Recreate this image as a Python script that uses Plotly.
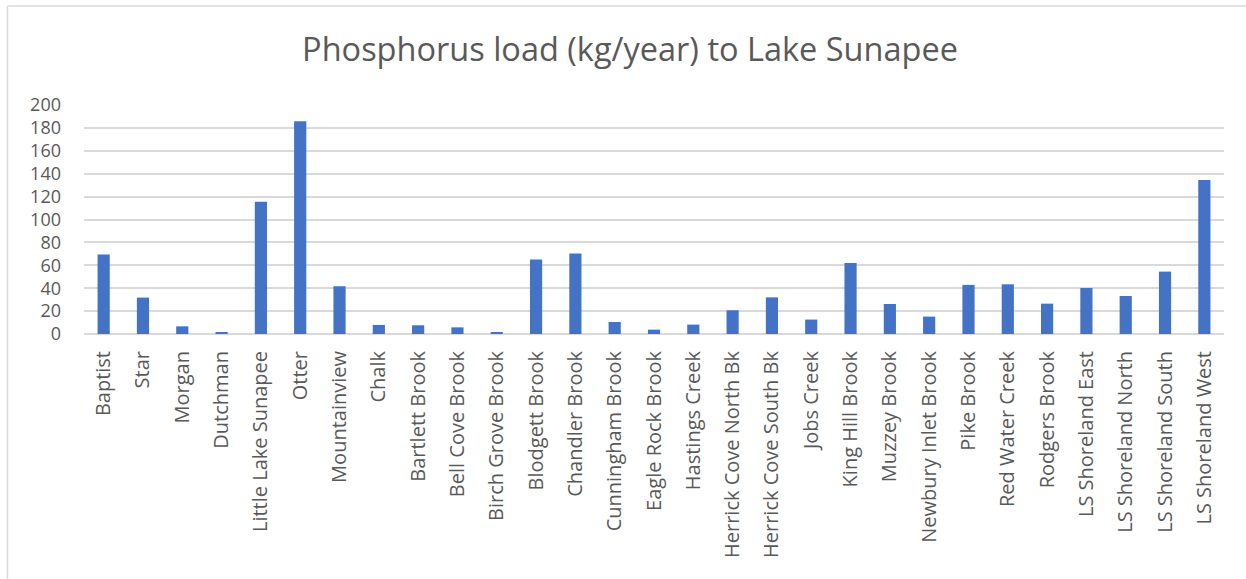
import plotly.graph_objects as go

categories = [
    "Baptist", "Star", "Morgan", "Dutchman", "Little Lake Sunapee", "Otter",
    "Mountainview", "Chalk", "Bartlett Brook", "Bell Cove Brook", "Birch Grove Brook",
    "Blodgett Brook", "Chandler Brook", "Cunningham Brook", "Eagle Rock Brook",
    "Hastings Creek", "Herrick Cove North Bk", "Herrick Cove South Bk", "Jobs Creek",
    "King Hill Brook", "Muzzey Brook", "Newbury Inlet Brook", "Pike Brook",
    "Red Water Creek", "Rodgers Brook", "LS Shoreland East", "LS Shoreland North",
    "LS Shoreland South", "LS Shoreland West",
]
values = [
    69.4, 31.8, 6.7, 1.2, 115.5, 185.7,
    41.7, 7.9, 7.6, 5.8, 1.5,
    65.0, 70.3, 10.5, 3.8,
    8.2, 20.7, 32.0, 12.6,
    62.1, 26.2, 15.2, 42.9,
    43.4, 26.5, 40.2, 33.2,
    54.5, 134.4,
]
y_ticks = [0, 20, 40, 60, 80, 100, 120, 140, 160, 180, 200]

W, H = 1246, 579
L, R, T, B = 84, 22, 105, 245
pw, ph = W - L - R, H - T - B

font_family = "'Open Sans', Lato, sans-serif"
txt = "#595959"

fig = go.Figure(go.Bar(x=categories, y=values, marker=dict(color="#4472C4", line=dict(width=0))))

fig.update_layout(
    width=W, height=H,
    margin=dict(l=L, r=R, t=T, b=B),
    paper_bgcolor="white", plot_bgcolor="white",
    bargap=0.69,
    showlegend=False,
    font=dict(family=font_family, color=txt),
    title=dict(text="Phosphorus load (kg/year) to Lake Sunapee",
               x=630 / W, xanchor="center", xref="container",
               y=1 - 50 / H, yanchor="middle", yref="container",
               font=dict(size=32.5, color=txt, family=font_family)),
)
fig.update_xaxes(
    type="category", tickangle=-90, tickfont=dict(size=20, color=txt),
    showline=False, showgrid=False, ticks="", ticklabelstandoff=12,
)
fig.update_yaxes(
    range=[0, 200], tickvals=y_ticks, tickfont=dict(size=18, color=txt),
    showgrid=True, gridcolor="#d9d9d9", gridwidth=1.5,
    zeroline=True, zerolinecolor="#d9d9d9", zerolinewidth=1.5,
    showline=False, ticks="", ticklabelstandoff=22,
)

# chart-area border (top and left edges visible in the frame)
bx = (7.5 - L) / pw
by = (H - B - 6) / ph
fig.add_shape(type="line", xref="paper", yref="paper", x0=bx, x1=(W + 10 - L) / pw, y0=by, y1=by,
              line=dict(color="#d9d9d9", width=1.5))
fig.add_shape(type="line", xref="paper", yref="paper", x0=bx, x1=bx, y0=by, y1=-(B + 10) / ph,
              line=dict(color="#d9d9d9", width=1.5))

fig.write_html("out.html", config={"displayModeBar": False},
               post_script="document.body.style.margin='0';")
